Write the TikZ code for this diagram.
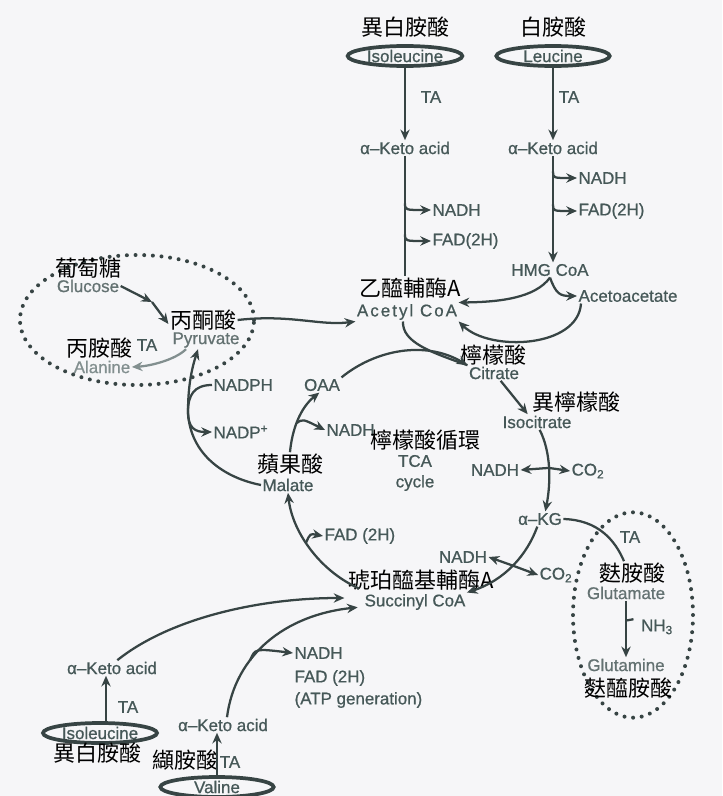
\documentclass[tikz,border=0pt]{standalone}
\usepackage{fontspec}
\setmainfont{Liberation Sans}
\newfontfamily\enfam{Liberation Sans}[FakeBold=0.8]
\newfontfamily\cjk{Noto Sans CJK TC}
\usetikzlibrary{arrows.meta,shapes.geometric,calc}
\definecolor{bgc}{RGB}{246,246,248}
\definecolor{entext}{RGB}{70,88,88}
\definecolor{lncol}{RGB}{55,68,68}
\definecolor{lightt}{RGB}{130,143,143}
\definecolor{midt}{RGB}{100,114,114}
\newcommand{\enf}{\enfam\fontsize{12.7}{14}\selectfont}
\newcommand{\zhf}{\cjk\fontsize{16.5}{18}\selectfont}
\begin{document}
\begin{tikzpicture}[x=0.75pt,y=-0.75pt,
  en/.style={font=\enf, text=entext, inner sep=1pt},
  zh/.style={font=\zhf, text=black, inner sep=1pt},
  ln/.style={draw=lncol, line width=1.7pt},
  arr/.style={ln, -{Stealth[length=8pt,width=7pt]}},
  oval/.style={en, ellipse, draw=lncol, line width=2.8pt, inner sep=0pt, minimum height=15pt},
  dotell/.style={ellipse, draw=lncol, line width=3pt, dash pattern=on 0pt off 6.5pt, line cap=round, inner sep=0pt}]
\fill[bgc] (0,0) rectangle (722,796);
\useasboundingbox (0,0) rectangle (722,796);

% dotted groups
\node[dotell, minimum width=175.5pt, minimum height=97.5pt] (grpL) at (137,320) {};
\node[dotell, minimum width=90pt, minimum height=154pt] (grpR) at (633,615) {};

% top
\node[zh] (zhIsoT) at (405,27) {異白胺酸};
\node[oval, minimum width=86pt] (isoT) at (405,56) {Isoleucine};
\node[zh] (zhLeu) at (553,27) {白胺酸};
\node[oval, minimum width=85pt] (leu) at (553,56) {Leucine};
\node[en] (taA) at (431,97) {TA};
\node[en] (taB) at (569,97) {TA};
\node[en] (ketoA) at (405,148) {α–Keto acid};
\node[en] (ketoB) at (553,148) {α–Keto acid};
\node[en, anchor=west] (nadhA) at (431,210) {NADH};
\node[en, anchor=west] (fadA) at (431,241) {FAD(2H)};
\node[en, anchor=west] (nadhB) at (577,178) {NADH};
\node[en, anchor=west] (fadB) at (577,211) {FAD(2H)};
\node[en] (hmg) at (550,270) {HMG CoA};
\node[en, anchor=west] (acetoac) at (577,296) {Acetoacetate};
\node[zh] (accz) at (410,288) {乙醯輔酶A};
\node[en, font=\enf\addfontfeature{LetterSpace=12}] (acetyl) at (407,312) {Acetyl CoA};

% TCA
\node[zh] (citz) at (493,355) {檸檬酸};
\node[en] (citrate) at (494,373) {Citrate};
\node[zh] (isocz) at (576,402) {異檸檬酸};
\node[en] (isocit) at (537,422) {Isocitrate};
\node[en] (nadhC) at (495,470) {NADH};
\node[en] (co2A) at (588,471) {CO\textsubscript{2}};
\node[en] (akg) at (540,519) {α–KG};
\node[en] (nadhD) at (463,557) {NADH};
\node[en] (co2B) at (556,575) {CO\textsubscript{2}};
\node[zh] (succz) at (421,580) {琥珀醯基輔酶A};
\node[en] (succ) at (415,602) {Succinyl CoA};
\node[en, anchor=west] (fadC) at (323,536) {FAD (2H)};
\node[zh] (malz) at (290,464) {蘋果酸};
\node[en] (malate) at (288,485) {Malate};
\node[en, anchor=west] (nadhE) at (325,430) {NADH};
\node[zh] (tcaz) at (425,440) {檸檬酸循環};
\node[en] (tca) at (415,461) {TCA};
\node[en] (cyc) at (415,483) {cycle};
\node[en] (oaa) at (322,385) {OAA};

% left group
\node[zh] (pyrz) at (203,320) {丙酮酸};
\node[en, text=midt] (pyr) at (206,340) {Pyruvate};
\node[en, anchor=west] (nadph) at (212,385) {NADPH};
\node[en, anchor=west] (nadpp) at (212,432) {NADP\textsuperscript{+}};
\node[zh] (gluz) at (88,268) {葡萄糖};
\node[en, text=midt] (glu) at (88,286) {Glucose};
\node[zh] (alaz) at (99,348) {丙胺酸};
\node[en, text=lightt] (ala) at (102,367) {Alanine};
\node[en] (taC) at (147,345) {TA};

% right group
\node[en] (taD) at (630,537) {TA};
\node[zh] (glutz) at (632,573) {麩胺酸};
\node[en, text=midt] (glut) at (626,593) {Glutamate};
\node[en] (nh3) at (657,627) {NH\textsubscript{3}};
\node[en, text=midt] (glun) at (626,665) {Glutamine};
\node[zh] (glunz) at (628,688) {麩醯胺酸};

% bottom
\node[en] (ketoC) at (112,668) {α–Keto acid};
\node[en] (taE) at (128,707) {TA};
\node[oval, minimum width=85.5pt] (isoB) at (100,733) {Isoleucine};
\node[zh] (zhIsoB) at (97,753) {異白胺酸};
\node[en] (ketoD) at (223,725) {α–Keto acid};
\node[zh] (zhVal) at (185,760) {纈胺酸};
\node[en] (taF) at (230,762) {TA};
\node[oval, minimum width=85pt] (val) at (217,787) {Valine};
\node[en, anchor=west] (nadhF) at (293,653) {NADH};
\node[en, anchor=west] (fadF) at (293,678) {FAD (2H)};
\node[en, anchor=west] (atp) at (293,700) {(ATP generation)};

% ---- connectors ----
\draw[arr] (isoT.south) -- (ketoA.north);
\draw[arr] (leu.south) -- (ketoB.north);
\draw[ln] (ketoA.south) -- (ketoA.south |- accz.north);
\coordinate (bA1) at (ketoA.south |- nadhA.west);
\coordinate (bA2) at (ketoA.south |- fadA.west);
\draw[arr] ([yshift=5pt]bA1) .. controls (bA1) .. (nadhA.west);
\draw[arr] ([yshift=5pt]bA2) .. controls (bA2) .. (fadA.west);
\draw[arr] (ketoB.south) -- (ketoB.south |- hmg.north);
\coordinate (bB1) at (ketoB.south |- nadhB.west);
\coordinate (bB2) at (ketoB.south |- fadB.west);
\draw[arr] ([yshift=5pt]bB1) .. controls (bB1) .. (nadhB.west);
\draw[arr] ([yshift=5pt]bB2) .. controls (bB2) .. (fadB.west);

\draw[arr] (hmg.south) .. controls (535,298) and (500,302) .. (acetyl.north east);
\draw[arr] (hmg.south) .. controls (556,294) and (560,296) .. (acetoac.west);
\draw[arr] ([xshift=3pt]acetoac.south west) .. controls (578,348) and (490,352) .. (acetyl.south east);

\draw[ln] ([xshift=-3pt]acetyl.south) .. controls (402,342) and (430,352) .. (citrate.north west);
\draw[arr] (oaa.north east) .. controls (375,350) and (425,340) .. (citrate.north west);
\draw[arr] ([xshift=5pt]citrate.south) -- ([xshift=-7pt]isocit.north);
\draw[arr] ([xshift=2pt]isocit.south) .. controls (551,452) and (551,482) .. ([xshift=4pt]akg.north) coordinate[pos=0.5] (j2);
\draw[arr] (j2) -- (nadhC.east);
\draw[arr] (j2) -- (co2A.west);
\draw[arr] ([xshift=-2pt]akg.south) .. controls (527,555) and (505,580) .. (succ.north east) coordinate[pos=0.5] (j3);
\draw[arr] (j3) -- (nadhD.east);
\draw[arr] (j3) -- (co2B.west);
\draw[arr] ([shift={(-3pt,3pt)}]succ.north west) .. controls (318,570) and (292,530) .. (malate.south) coordinate[pos=0.55] (j4);
\draw[arr] (j4) .. controls ($(j4)+(4,-9)$) .. (fadC.west);
\draw[arr] (malz.north) .. controls (292,430) and (300,408) .. ([xshift=-2pt]oaa.south) coordinate[pos=0.45] (j6);
\draw[arr] (j6) .. controls ($(j6)+(6,-4)$) .. (nadhE.west);

\draw[arr] (malate.west) .. controls (225,478) and (190,455) .. (188,412) coordinate (j5) .. controls (188,385) and (192,368) .. ([xshift=-6pt]pyr.south);
\draw[ln] (nadph.west) .. controls (194,385) and (188,395) .. (j5);
\draw[arr] (j5) .. controls (188,428) and (195,432) .. (nadpp.west);

\draw[arr] (pyrz.east) .. controls (290,314) and (320,326) .. (acetyl.south west);
\coordinate (gm) at (152,302);
\draw[arr] (glu.east) -- (gm);
\draw[arr] (gm) -- ([yshift=-3pt]pyrz.west);
\draw[arr, draw=lightt] ([xshift=-15pt]pyr.south) .. controls (175,360) and (150,366) .. (ala.east);

\draw[ln] (akg.east) .. controls (598,520) and (615,540) .. ([xshift=-6pt]glutz.north);
\draw[arr] (glut.south) -- (glun.north) coordinate[pos=0.35] (j7);
\draw[ln] (j7) -- ($(j7)!0.55!(nh3.north west)$);

\coordinate (ib) at ([xshift=4.5pt]isoB.north);
\draw[arr] (ib) -- (ib |- ketoC.south);
\draw[arr] (val.north) -- (val.north |- ketoD.south);
\draw[arr] ([xshift=4pt]ketoC.north) .. controls (170,618) and (260,598) .. ([shift={(-14pt,3pt)}]succ.west);
\draw[arr] ([xshift=3pt]ketoD.north) .. controls (235,655) and (285,615) .. ([shift={(-4pt,-4pt)}]succ.west) coordinate[pos=0.35] (j8);
\draw[arr] (j8) .. controls ($(j8)+(5,-12)$) .. (nadhF.west);
\end{tikzpicture}
\end{document}
